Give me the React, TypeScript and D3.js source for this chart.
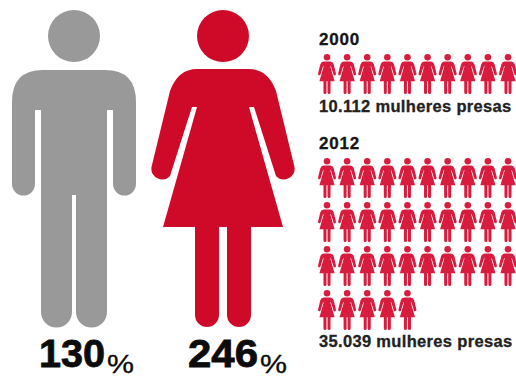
import React from "react";
import * as d3 from "d3";

// Growth of the prison population by sex
const groups = ["homens", "mulheres"];
const growthPercent = [130, 246];
const groupColors = ["#999999", "#cf0a28"];

// Women in prison per year; one pictogram stands for a thousand women
const years = ["2000", "2012"];
const womenInPrison = [10112, 35039];
const perIcon = 1000;
const perRow = 10;

const WIDTH = 516;
const HEIGHT = 378;
const RED_SMALL = "#d81c3e";
const DIGIT_WIDTHS = [66, 70];

// Pictograms, drawn around x = 0 with the head's top at y = 0, 317 units tall
const manBody =
  "M-62,92 Q-62,60 -31,60 H31 Q62,60 62,92 V174 A11.5,11.5 0 0 1 39,174 V100 H33 V302 A15.5,15.5 0 0 1 2,302 V185 H-2 V302 A15.5,15.5 0 0 1 -33,302 V100 H-39 V174 A11.5,11.5 0 0 1 -62,174 Z";
const womanBody =
  "M-26,59 H26 Q45,59 53,81 L71.5,157 A10.8,10.8 0 0 1 53,166 L31,97 H26 L60,217 H28 V305 A12,12 0 0 1 4,305 V217 H-4 V305 A12,12 0 0 1 -28,305 V217 H-60 L-26,97 H-31 L-53,166 A10.8,10.8 0 0 1 -71.5,157 L-53,81 Q-45,59 -26,59 Z";

function Person({ kind, x, y, k, fill }: { kind: string; x: number; y: number; k: number; fill: string }) {
  return (
    <g transform={`translate(${x},${y}) scale(${k})`} fill={fill}>
      <circle cx={0} cy={26} r={26} />
      <path d={kind === "homens" ? manBody : womanBody} />
    </g>
  );
}

export default function App() {
  const bigX = d3.scalePoint<string>().domain(groups).range([74, 223]);
  const iconX = d3.scaleLinear().domain([0, perRow - 1]).range([327, 508]);
  const iconK = 0.126;

  const iconsFor = (value: number) => d3.range(Math.floor(value / perIcon));
  const fmt = d3.formatLocale({ decimal: ",", thousands: ".", grouping: [3], currency: ["", ""] }).format(",d");

  const rowY = d3.scaleLinear().domain([0, 1]).range([0, 44]);
  const blocks = [
    { year: years[0], value: womenInPrison[0], yearY: 45, top: 54, labelY: 112 },
    { year: years[1], value: womenInPrison[1], yearY: 149, top: 158, labelY: 347 },
  ];

  const font = "'Liberation Sans', Arial, sans-serif";

  return (
    <svg
      width={WIDTH}
      height={HEIGHT}
      style={{ position: "absolute", left: 0, top: 0, background: "#fff" }}
      fontFamily={font}
    >
      {groups.map((g, i) => (
        <g key={g}>
          <Person kind={g} x={bigX(g)!} y={10} k={1} fill={groupColors[i]} />
          <text
            x={bigX(g)! - 35}
            y={367}
            fontSize={39}
            fontWeight={700}
            stroke="#0c0c0c"
            strokeWidth={0.8}
            fill="#0c0c0c"
            textLength={DIGIT_WIDTHS[i]}
            lengthAdjust="spacingAndGlyphs"
          >
            {growthPercent[i]}
          </text>
          <text
            x={bigX(g)! - 35 + DIGIT_WIDTHS[i] + 2}
            y={372.5}
            fontSize={25}
            stroke="#0c0c0c"
            strokeWidth={0.3}
            fill="#0c0c0c"
            textLength={27}
            lengthAdjust="spacingAndGlyphs"
          >
            %
          </text>
        </g>
      ))}

      {blocks.map((b) => (
        <g key={b.year}>
          <text
            x={319}
            y={b.yearY}
            fontSize={17}
            fontWeight={700}
            letterSpacing={0.8}
            stroke="#151515"
            strokeWidth={0.3}
            fill="#151515"
          >
            {b.year}
          </text>
          {iconsFor(b.value).map((n) => (
            <Person
              key={n}
              kind="mulheres"
              x={iconX(n % perRow)}
              y={b.top + rowY(Math.floor(n / perRow))}
              k={iconK}
              fill={RED_SMALL}
            />
          ))}
          <text
            x={319}
            y={b.labelY}
            fontSize={16.5}
            fontWeight={700}
            letterSpacing={0.33}
            stroke="#222222"
            strokeWidth={0.3}
            fill="#222222"
          >
            {fmt(b.value)} mulheres presas
          </text>
        </g>
      ))}
    </svg>
  );
}
